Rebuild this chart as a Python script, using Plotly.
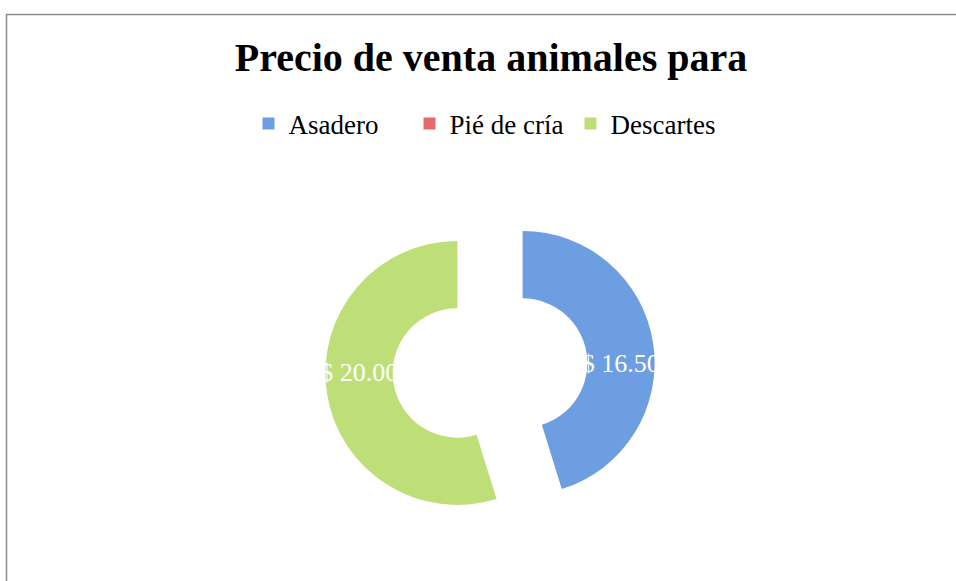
import plotly.graph_objects as go

categories = ["Asadero", "Pié de cría", "Descartes"]
values = [16.50, 0.0, 20.00]
colors = ["#6E9EE2", "#E36C6A", "#BEDF78"]
title_text = "Precio de venta animales para"

# label text only for non-empty slices
slice_text = [("$ %.2f" % v) if v > 0 else "" for v in values]

W, H = 956, 581

fig = go.Figure()
fig.add_trace(go.Pie(
    labels=categories,
    values=values,
    text=slice_text,
    textinfo="text",
    sort=False,
    direction="clockwise",
    rotation=0,
    hole=0.49,
    pull=0.25,
    marker=dict(colors=colors, line=dict(width=0)),
    textposition="inside",
    insidetextorientation="horizontal",
    textfont=dict(family="Liberation Serif", size=26, color="white"),
    domain=dict(x=[325 / W, 655 / W], y=[1 - 533 / H, 1 - 203 / H]),
    hoverinfo="label+value",
    showlegend=True,
))

fig.update_layout(
    width=W, height=H,
    margin=dict(l=0, r=0, t=0, b=0),
    paper_bgcolor="white",
    plot_bgcolor="white",
    uniformtext=dict(minsize=26, mode="show"),
    title=dict(
        text="<b>" + title_text + "</b>",
        x=491 / W, xanchor="center",
        y=1 - 57 / H, yanchor="middle",
        font=dict(family="Liberation Serif", size=40, color="black"),
    ),
    legend=dict(
        orientation="h",
        x=490 / W, xanchor="center",
        y=1 - 124 / H, yanchor="middle",
        font=dict(family="Liberation Serif", size=27, color="black"),
        entrywidth=116,
        entrywidthmode="pixels",
        bgcolor="rgba(0,0,0,0)",
    ),
    shapes=[dict(
        type="rect", xref="paper", yref="paper",
        x0=6.5 / W, x1=1.05, y0=-0.05, y1=1 - 14.5 / H,
        line=dict(color="#8a8a8a", width=1.5),
        fillcolor="rgba(0,0,0,0)",
        layer="below",
    )],
)

fig.write_html("out.html", config={"displayModeBar": False},
               post_script="document.body.style.margin='0';")
